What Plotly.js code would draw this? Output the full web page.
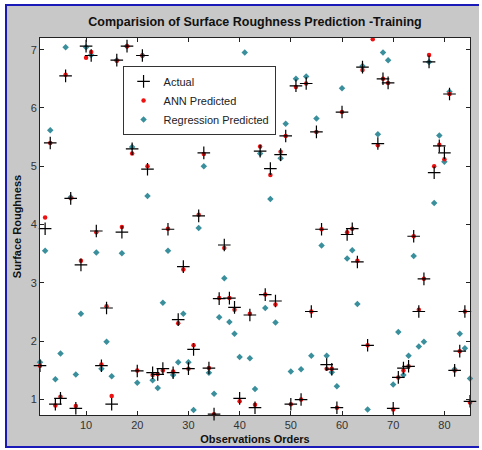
<!DOCTYPE html>
<html>
<head>
<meta charset="utf-8">
<script src="https://cdn.plot.ly/plotly-3.0.1.min.js"></script>
<style>
  html, body { margin: 0; padding: 0; background: #ffffff; }
  #frame { position: absolute; left: 5px; top: 4px; width: 474px; height: 444px;
           box-sizing: border-box; background: #c8c8c8;
           border-left: 2px solid #1a1ab8; border-top: 2px solid #1a1ab8; border-bottom: 2px solid #1a1ab8; }
  #chart { position: absolute; left: 0; top: 0; width: 482px; height: 450px; }
</style>
</head>
<body>
<div id="frame"></div>
<div id="chart"></div>
<script>
// Observation index
const observations = Array.from({length: 85}, (_, i) => i + 1);

// Actual surface roughness
const actual = [
  1.58, 3.93, 5.40, 0.92, 1.02, 6.55, 4.45, 0.85, 3.31, 7.06,
  6.90, 3.89, 1.58, 2.57, 0.92, 6.82, 3.87, 7.06, 5.30, 1.49,
  6.90, 4.95, 1.46, 1.43, 1.53, 3.92, 1.46, 2.37, 3.28, 1.53,
  1.86, 4.15, 5.23, 1.54, 0.75, 2.73, 3.65, 2.74, 2.58, 1.02,
  null, 2.45, 0.86, 5.26, 2.80, 4.96, 2.69, 5.20, 5.52, 0.92,
  6.38, 1.00, 6.42, 2.51, 5.59, 3.92, 1.60, 1.52, 0.86, 5.93,
  3.83, 3.93, 3.36, 6.70, 1.93, 7.23, 5.39, 6.50, 6.43, 0.85,
  1.38, 1.54, 1.57, 3.80, 2.51, 3.07, 6.79, 4.89, 5.35, 5.23,
  6.24, 1.50, 1.83, 2.51, 0.97
];

// ANN predicted
const annPredicted = [
  1.58, 4.12, 5.40, 0.90, 1.05, 6.57, 4.45, 0.89, 3.38, 6.86,
  6.96, 3.87, 1.60, 2.60, 1.06, 6.81, 3.96, 7.06, 5.22, 1.50,
  6.90, 5.00, 1.42, 1.44, 1.50, 3.93, 1.48, 2.31, 3.23, 1.53,
  1.93, 4.17, 5.21, 1.54, 0.75, 2.74, 3.60, 2.74, 2.54, 0.97,
  null, 2.47, 0.91, 5.34, 2.80, 4.85, 2.63, 5.25, 5.52, 0.92,
  6.36, 1.00, 6.42, 2.51, 5.59, 3.92, 1.53, 1.53, 0.86, 5.93,
  3.87, 3.93, 3.38, 6.65, 1.93, 7.18, 5.36, 6.50, 6.43, 0.83,
  1.38, 1.50, 1.57, 3.80, 2.54, 3.07, 6.91, 5.00, 5.37, 5.12,
  6.24, 1.50, 1.83, 2.51, 0.95
];

// Regression predicted
const regressionPredicted = [
  1.64, 3.55, 5.62, 1.35, 1.79, 7.04, 4.47, 1.43, 2.47, 7.04,
  6.91, 3.52, 1.53, 1.99, 1.40, 6.82, 3.51, 7.06, 5.33, 1.29,
  6.90, 4.49, 1.33, 1.20, 2.66, 3.55, 1.42, 1.64, 2.47, 1.64,
  0.82, 3.94, 5.00, 1.46, 1.10, 2.41, 3.08, 2.33, 2.13, 1.73,
  6.95, 1.71, 1.18, 5.22, 2.57, 4.44, 2.32, 5.14, 5.73, 1.48,
  6.50, 1.52, 6.54, 1.75, 5.82, 3.64, 1.75, 1.47, 1.23, 6.34,
  3.42, 3.56, 2.64, 6.72, 0.83, 7.21, 5.55, 6.95, 6.82, 1.26,
  2.16, 1.42, 1.75, 3.46, 1.91, 1.99, 6.79, 4.37, 5.53, 5.08,
  6.28, 1.52, 2.13, 1.88, 1.36
];

const xTicks = [10, 20, 30, 40, 50, 60, 70, 80];
const yTicks = [1, 2, 3, 4, 5, 6, 7];

const fontFam = '"Liberation Sans", Arial, sans-serif';

const traces = [
  {
    x: observations, y: regressionPredicted, name: 'Regression Predicted',
    type: 'scatter', mode: 'markers', cliponaxis: false,
    marker: { symbol: 'diamond', size: 5, color: '#3a8f9c' }
  },
  {
    x: observations, y: annPredicted, name: 'ANN Predicted',
    type: 'scatter', mode: 'markers', cliponaxis: false,
    marker: { symbol: 'circle', size: 4.5, color: '#ee1111' }
  },
  {
    x: observations, y: actual, name: 'Actual',
    type: 'scatter', mode: 'markers', cliponaxis: false,
    marker: { symbol: 'cross-thin', size: 9, color: '#000000',
              line: { color: '#000000', width: 1.2 } }
  }
];

const layout = {
  width: 482, height: 450,
  paper_bgcolor: 'rgba(0,0,0,0)',
  plot_bgcolor: '#ffffff',
  margin: { l: 40, r: 12, t: 38, b: 35 },
  font: { family: fontFam, size: 11, color: '#222222' },
  title: {
    text: '<b>Comparision of Surface Roughness Prediction -Training</b>',
    font: { family: fontFam, size: 12.5, color: '#111111' },
    x: 0.5, xref: 'paper', y: 1 - 22 / 450, yref: 'container', yanchor: 'middle'
  },
  xaxis: {
    range: [1, 85], tickvals: xTicks, ticktext: xTicks.map(String),
    ticks: 'inside', ticklen: 4, tickcolor: '#222', mirror: 'ticks',
    showline: true, linecolor: '#222', linewidth: 1,
    showgrid: false, zeroline: false,
    tickfont: { size: 11, color: '#333' },
    title: { text: '<b>Observations Orders</b>', standoff: 5,
             font: { size: 11, color: '#111' } }
  },
  yaxis: {
    range: [0.735, 7.2], tickvals: yTicks, ticktext: yTicks.map(String),
    ticks: 'inside', ticklen: 4, tickcolor: '#222', mirror: 'ticks',
    showline: true, linecolor: '#222', linewidth: 1,
    showgrid: false, zeroline: false,
    tickfont: { size: 11, color: '#333' },
    title: { text: '<b>Surface Roughness</b>', standoff: 6,
             font: { size: 11, color: '#111' } }
  },
  showlegend: true,
  legend: {
    x: 0.192, y: 0.926, xanchor: 'left', yanchor: 'top',
    bgcolor: '#ffffff', bordercolor: '#333333', borderwidth: 1,
    traceorder: 'reversed',
    font: { family: fontFam, size: 11, color: '#222' }
  }
};

Plotly.newPlot('chart', traces, layout, { displayModeBar: false, staticPlot: true });
</script>
</body>
</html>
